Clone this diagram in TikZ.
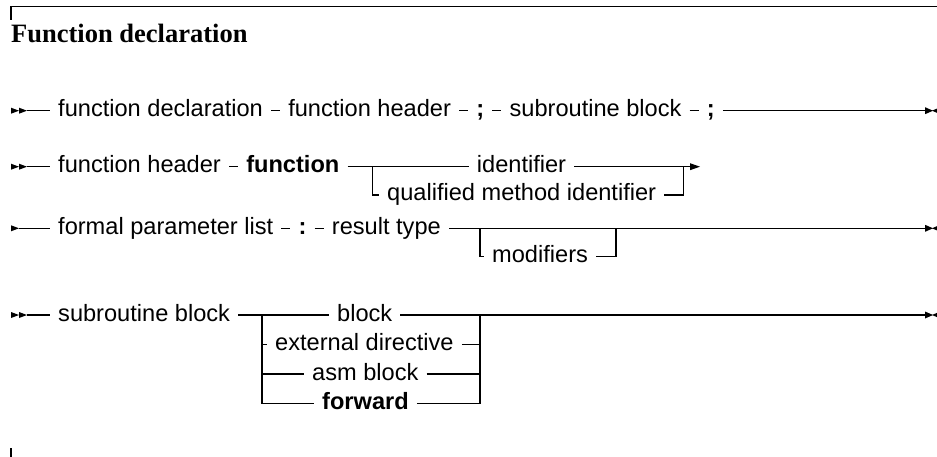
\documentclass[tikz,border=0pt]{standalone}
\usepackage{fontspec}
\setmainfont{Liberation Serif}
\newfontfamily\diagsans{Liberation Sans}
\newcommand{\dfont}{\diagsans\fontsize{23.6}{28}\selectfont}
\newcommand{\tfont}{\rmfamily\bfseries\fontsize{26.5}{31}\selectfont}
\usetikzlibrary{positioning}
\tikzset{
  item/.style={font=\dfont, inner xsep=8pt, inner ysep=0pt, text height=17pt, text depth=5pt, anchor=west},
  itemb/.style={item, font=\dfont\bfseries},
  rail/.style={line width=1.1pt, black},
  pics/sstart/.style={code={\fill (0,-3) -- (8,0) -- (0,3) -- cycle;}},
  pics/dstart/.style={code={\fill (0,-3) -- (8,0) -- (0,3) -- cycle; \fill (8,-3) -- (16,0) -- (8,3) -- cycle;}},
  pics/cont/.style={code={\fill (0,-3.5) -- (10,0) -- (0,3.5) -- cycle;}},
  pics/fin/.style={code={\fill (0,-3.5) -- (8,0) -- (0,3.5) -- cycle; \fill (7,0) -- (14,-3) -- (14,3) -- cycle;}},
}
\begin{document}
\begin{tikzpicture}[x=1pt,y=-1pt]
\useasboundingbox (0,0) rectangle (937,457);
% frame ticks
\coordinate (tl) at (11,6.7);
\coordinate (tr) at (940,6.7);
\coordinate (tld) at (11,20);
\draw[line width=1.1pt] (tld) -- (tl) -- (tr);
\coordinate (bl) at (11,448);
\coordinate (bld) at (11,460);
\draw[line width=1.1pt] (bl) -- (bld);
\node[anchor=base west, inner sep=0pt, font=\tfont] (title) at (11,42.7) {Function declaration};

% Row 1
\pic at (11,110.7) {dstart};
\coordinate (s1) at (27,110.7);
\node[item] (a1) at (50,110.7) {function declaration};
\node[item, right=9pt of a1] (a2) {function header};
\node[itemb, right=9pt of a2] (a3) {;};
\node[item, right=9pt of a3] (a4) {subroutine block};
\node[itemb, right=9pt of a4] (a5) {;};
\coordinate (e1) at (925,110.7);
\draw[rail] (s1) -- (a1.west);
\draw[rail] (a1.east) -- (a2.west);
\draw[rail] (a2.east) -- (a3.west);
\draw[rail] (a3.east) -- (a4.west);
\draw[rail] (a4.east) -- (a5.west);
\draw[rail] (a5.east) -- (e1);
\pic at (e1) {fin};

% Row 2
\pic at (11,166.7) {dstart};
\coordinate (s2) at (27,166.7);
\node[item] (b1) at (50,166.7) {function header};
\node[itemb, right=9pt of b1] (b2) {function};
\coordinate (bL) at (372.7,166.7);
\coordinate (bR) at (683.3,166.7);
\coordinate (e2) at (690,166.7);
\node[item] (ident) at (468.7,166.7) {identifier};
\node[item] (qual) at (379,195) {qualified method identifier};
\draw[rail] (s2) -- (b1.west);
\draw[rail] (b1.east) -- (b2.west);
\draw[rail] (b2.east) -- (bL) -- (ident.west);
\draw[rail] (ident.east) -- (e2);
\draw[rail] (bL) |- (qual.west);
\draw[rail] (qual.east) -| (bR);
\pic at (e2) {cont};

% Row 3
\pic at (11,228.3) {sstart};
\coordinate (s3) at (19,228.3);
\node[item] (c1) at (50,228.3) {formal parameter list};
\node[itemb, right=9pt of c1] (c2) {:};
\node[item, right=9pt of c2] (c3) {result type};
\coordinate (cL) at (480,228.3);
\coordinate (cR) at (616,228.3);
\coordinate (e3) at (925,228.3);
\node[item] (mod) at (484,256.8) {modifiers};
\draw[rail] (s3) -- (c1.west);
\draw[rail] (c1.east) -- (c2.west);
\draw[rail] (c2.east) -- (c3.west);
\draw[rail] (c3.east) -- (cL) -- (e3);
\draw[rail] (cL) |- (mod.west);
\draw[rail] (mod.east) -| (cR);
\pic at (e3) {fin};

% Row 4
\pic at (11,315) {dstart};
\coordinate (s4) at (27,315);
\node[item] (d1) at (50,315) {subroutine block};
\coordinate (dL) at (262,315);
\coordinate (dR) at (480,315);
\coordinate (e4) at (925,315);
\node[item] (blk) at (329,315) {block};
\node[item] (ext) at (267,344.5) {external directive};
\node[item] (asm) at (304,374) {asm block};
\node[itemb] (fwd) at (314,403.5) {forward};
\draw[rail] (s4) -- (d1.west);
\draw[rail] (d1.east) -- (dL) -- (blk.west);
\draw[rail] (blk.east) -- (dR) -- (e4);
\draw[rail] (dL) |- (fwd.west);
\draw[rail] (dL |- ext.west) -- (ext.west);
\draw[rail] (dL |- asm.west) -- (asm.west);
\draw[rail] (fwd.east) -| (dR);
\draw[rail] (ext.east) -- (dR |- ext.east);
\draw[rail] (asm.east) -- (dR |- asm.east);
\pic at (e4) {fin};
\end{tikzpicture}
\end{document}
